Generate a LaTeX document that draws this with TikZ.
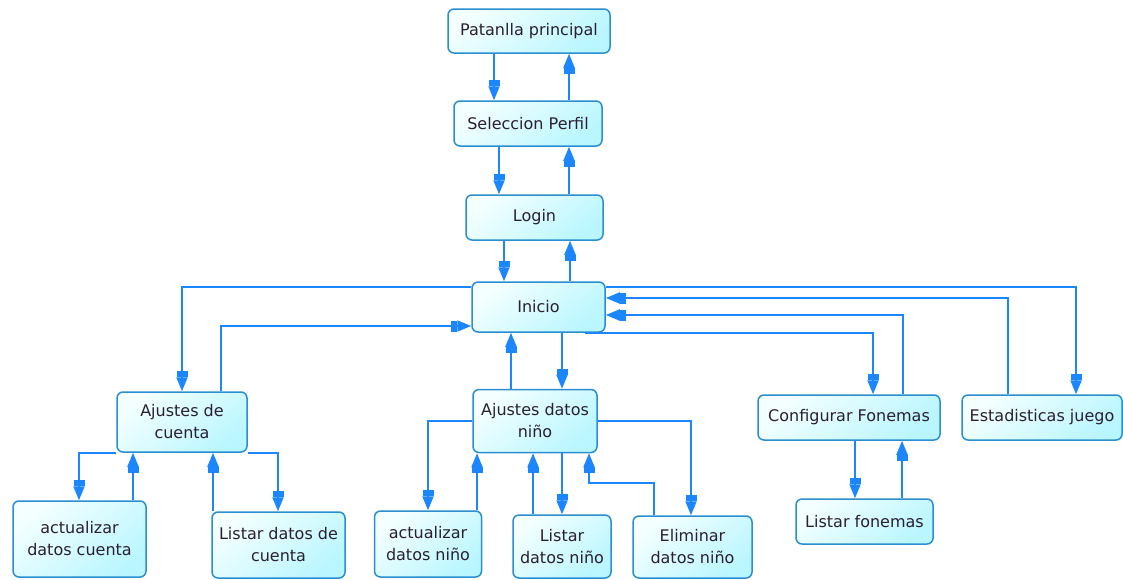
\documentclass[tikz,border=0pt]{standalone}
\usepackage{fontspec}
\setmainfont{DejaVu Sans}
\usetikzlibrary{arrows.meta,calc}
\definecolor{lineblue}{HTML}{1C86FF}
\definecolor{boxedge}{HTML}{2A8ED0}
\definecolor{boxtop}{HTML}{F4FFFF}
\definecolor{boxbot}{HTML}{BAF6FF}
\definecolor{ink}{HTML}{2A2030}
\tikzset{
  box/.style={draw=boxedge, line width=1.5pt, rounded corners=6pt,
    top color=boxtop, bottom color=boxbot, shading angle=40,
    align=center, inner sep=0pt, text=ink,
    font=\fontsize{16}{22}\selectfont},
  flow/.style={draw=lineblue, line width=1.9pt,
    -{Rectangle[width=11pt,length=6pt]Triangle[width=11pt,length=14pt]}}
}
\begin{document}
\begin{tikzpicture}[x=1pt,y=-1pt]
\useasboundingbox (0,0) rectangle (1123,579);

% screens
\node[box, minimum width=162pt, minimum height=44pt] (P)  at (529,31)    {Patanlla principal};
\node[box, minimum width=148pt, minimum height=45pt] (S)  at (528,123.5) {Seleccion Perfil};
\node[box, minimum width=137pt, minimum height=45pt] (L)  at (534.5,217.5) {Login};
\node[box, minimum width=133pt, minimum height=50pt] (I)  at (538.5,307)  {Inicio};
\node[box, minimum width=130pt, minimum height=60pt] (AC) at (182,422)    {Ajustes de\\cuenta};
\node[box, minimum width=124pt, minimum height=63pt] (AN) at (535,421)    {Ajustes datos\\niño};
\node[box, minimum width=182pt, minimum height=45pt] (CF) at (849,417.5)  {Configurar Fonemas};
\node[box, minimum width=160pt, minimum height=45pt] (ES) at (1042,417.5) {Estadisticas juego};
\node[box, minimum width=133pt, minimum height=76pt] (AU) at (79.5,539)   {actualizar\\datos cuenta};
\node[box, minimum width=133pt, minimum height=66pt] (LC) at (278.5,545)  {Listar datos de\\cuenta};
\node[box, minimum width=107pt, minimum height=66pt] (AUN) at (428,544)   {actualizar\\datos niño};
\node[box, minimum width=98pt,  minimum height=63pt] (LN) at (562,546.5)  {Listar\\datos niño};
\node[box, minimum width=119pt, minimum height=62pt] (EN) at (692.5,547)  {Eliminar\\datos niño};
\node[box, minimum width=137pt, minimum height=45pt] (LF) at (864.5,521.5) {Listar fonemas};

% main chain
\draw[flow] (P.south -| 494,0) -- (S.north -| 494,0);
\draw[flow] (S.north -| 569,0) -- (P.south -| 569,0);
\draw[flow] (S.south -| 499,0) -- (L.north -| 499,0);
\draw[flow] (L.north -| 569,0) -- (S.south -| 569,0);
\draw[flow] (L.south -| 504,0) -- (I.north -| 504,0);
\draw[flow] (I.north -| 570,0) -- (L.south -| 570,0);

% Inicio and its sections
\draw[flow] (I.west |- 0,287) -| (AC.north);
\draw[flow] (AC.north -| 221,0) |- (I.west |- 0,326);
\draw[flow] (I.south -| 562,0) -- (AN.north -| 562,0);
\draw[flow] (AN.north -| 511,0) -- (I.south -| 511,0);
\draw[flow] (I.east |- 0,287) -| (ES.north -| 1076,0);
\draw[flow] (ES.north -| 1008,0) |- (I.east |- 0,298);
\draw[flow] (CF.north -| 903,0) |- (I.east |- 0,315);
\draw[flow] (I.south -| 585,0) -| (CF.north -| 873,0);

% account settings
\draw[flow] (AC.south west) -| (AU.north -| 79,0);
\draw[flow] (AU.north -| 133,0) -- (AC.south -| 133,0);
\draw[flow] (LC.north -| 213,0) -- (AC.south -| 213,0);
\draw[flow] (AC.south east) -| (LC.north -| 278,0);

% child settings
\draw[flow] (AN.west) -| (AUN.north -| 428,0);
\draw[flow] (AUN.north -| 477,0) -- (AN.south -| 477,0);
\draw[flow] (LN.north -| 533,0) -- (AN.south -| 533,0);
\draw[flow] (AN.south -| 562,0) -- (LN.north -| 562,0);
\draw[flow] (EN.north -| 654,0) -- (654,483) -| (AN.south -| 589,0);
\draw[flow] (AN.east) -| (EN.north -| 691,0);

% phonemes
\draw[flow] (CF.south -| 855,0) -- (LF.north -| 855,0);
\draw[flow] (LF.north -| 902,0) -- (CF.south -| 902,0);
\end{tikzpicture}
\end{document}
